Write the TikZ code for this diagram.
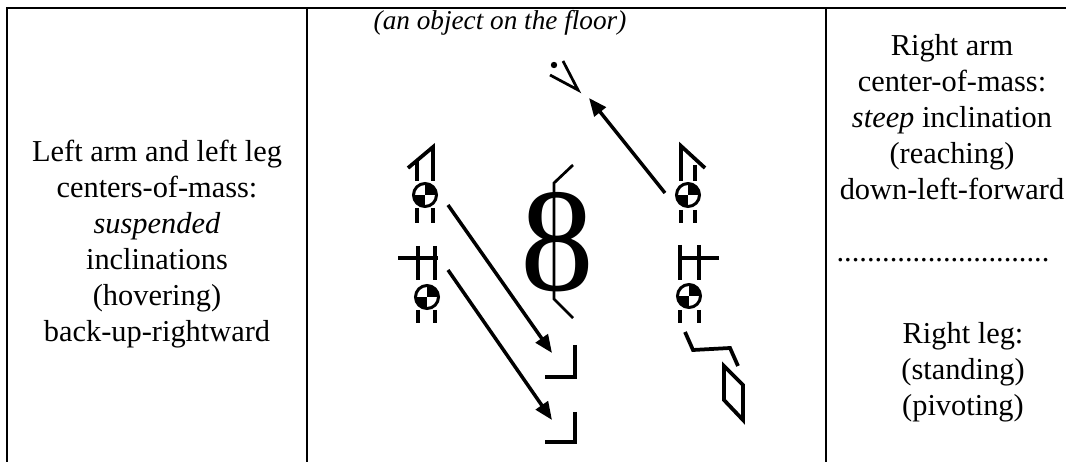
\documentclass[tikz,border=0pt]{standalone}
\usepackage{fontspec}
\setmainfont{Liberation Serif}
\usetikzlibrary{arrows.meta,positioning}

\begin{document}
\begin{tikzpicture}[x=0.02cm,y=-0.02cm,
   rule/.style={line width=0.04cm},
   sym/.style={line width=0.075cm},
   thinsym/.style={line width=0.055cm},
   com/.style={circle,draw,line width=0.06cm,minimum size=0.46cm,inner sep=0pt,
     path picture={\fill (path picture bounding box.center) rectangle (path picture bounding box.north east);
                   \fill (path picture bounding box.center) rectangle (path picture bounding box.south west);}},
   move/.style={-{Triangle[length=0.36cm,width=0.29cm]},line width=0.07cm},
   txt/.style={align=center,font=\fontsize{17.3}{20.5}\selectfont}]
  \useasboundingbox (0,0) rectangle (1066,462);
  % table
  \draw[rule] (7,462) -- (7,8.5) -- (1066,8.5);
  \draw[rule] (307,8.5) -- (307,462);
  \draw[rule] (826,8.5) -- (826,462);

  \node[txt] (lefttxt) at (157,244) {Left arm and left leg\\centers-of-mass:\\\textit{suspended}\\inclinations\\(hovering)\\back-up-rightward};
  \node[txt] (armtxt) at (952,117) {Right arm\\center-of-mass:\\\textit{steep} inclination\\(reaching)\\down-left-forward};
  \node[txt,anchor=base] (dots) at (943,262) {............................};
  \node[txt] (legtxt) at (963,372) {Right leg:\\(standing)\\(pivoting)};
  \node[font=\fontsize{15.5}{18}\selectfont\itshape] (floortxt) at (500,23) {(an object on the floor)};

  % left arm
  \draw[sym] (408,168) -- (433,147) -- (433,181);
  \draw[sym] (417,160) -- (417,181);
  \node[com] (lacom) at (425,195) {};
  \draw[sym] (417,208) -- (417,223) (433,208) -- (433,223);
  % left leg
  \draw[sym] (398,258) -- (438,258);
  \draw[sym] (418,246) -- (418,280) (435,246) -- (435,280);
  \node[com] (llcom) at (427,297) {};
  \draw[sym] (418,310) -- (418,323) (435,310) -- (435,323);
  % right arm
  \draw[sym] (681,181) -- (681,146) -- (705,168);
  \draw[sym] (695,165) -- (695,181);
  \node[com] (racom) at (688,195) {};
  \draw[sym] (681,210) -- (681,223) (695,210) -- (695,223);
  % right leg
  \draw[sym] (680,245) -- (680,280) (699,245) -- (699,280);
  \draw[sym] (680,258) -- (719,258);
  \node[com] (rlcom) at (689,296) {};
  \draw[sym] (680,310) -- (680,323) (699,310) -- (699,323);
  \draw[sym] (685,332) -- (693,350) -- (730,348) -- (738,366);
  \draw[sym] (724,366) -- (743,385) -- (743,420) -- (724,400) -- cycle;

  % body
  \draw[thinsym] (573,165) -- (554,183) -- (554,299) -- (573,318);
  \node[font=\fontsize{84}{84}\selectfont] (eight) at (557,242) {8};

  % places
  \draw[sym] (575,345) -- (575,377) -- (545,377);
  \draw[sym] (575,412) -- (575,442) -- (545,442);

  % object
  \fill (554,65) circle (3.2);
  \draw[thinsym] (563,61) -- (578,90) -- (550,75);

  \coordinate (lafrom) at (448,205);
  \coordinate (lato) at (552,353);
  \coordinate (llfrom) at (448,270);
  \coordinate (llto) at (552,420);
  \coordinate (rafrom) at (665,193);
  \coordinate (rato) at (589,98);
  \path
   (lafrom) edge[move] (lato)
   (llfrom) edge[move] (llto)
   (rafrom) edge[move] (rato);
\end{tikzpicture}
\end{document}
